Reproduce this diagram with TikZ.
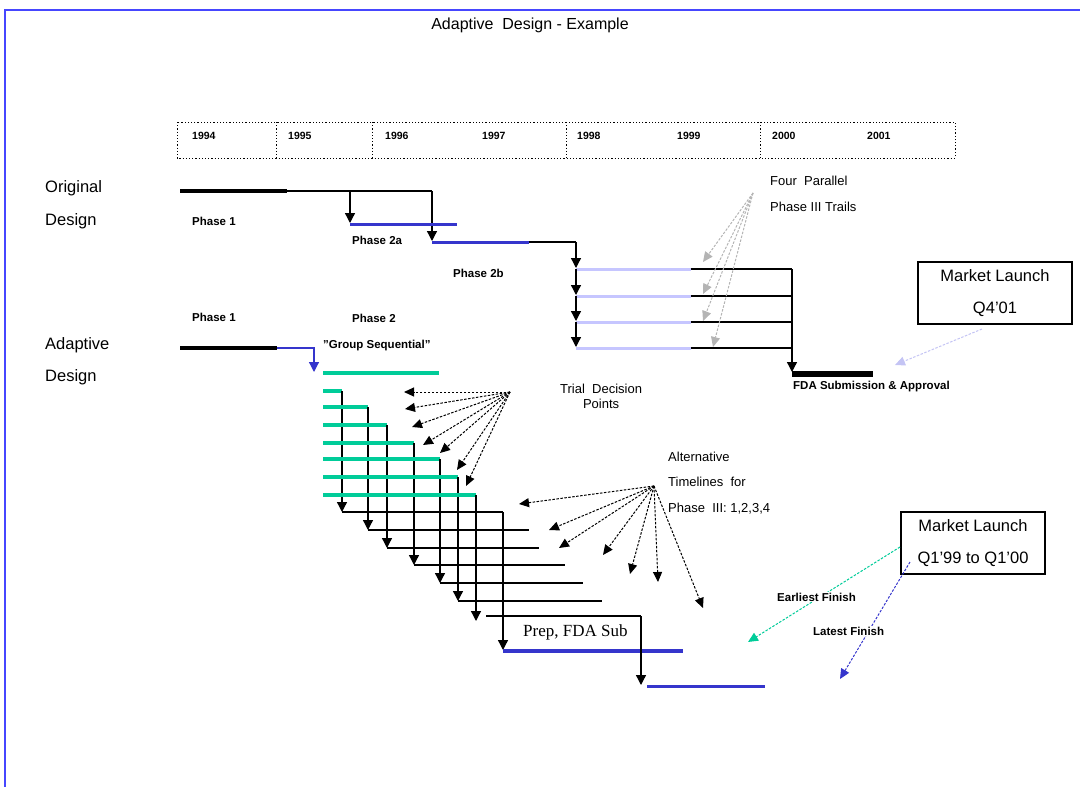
\documentclass[tikz,border=0pt]{standalone}
\usepackage{fontspec}
\setmainfont{Liberation Sans}
\newfontfamily\serifface{Liberation Serif}
\usetikzlibrary{arrows.meta,calc}
\definecolor{frameblue}{HTML}{4646FF}
\definecolor{phblue}{HTML}{3535CC}
\definecolor{lightbar}{HTML}{C6C6FF}
\definecolor{greenbar}{HTML}{00CC99}
\definecolor{arrowgray}{HTML}{B4B4B4}
\definecolor{lavender}{HTML}{C4C4F4}
\begin{document}
\begin{tikzpicture}[x=1pt,y=-1pt,
  lbl/.style={inner sep=0pt, anchor=west, font=\fontsize{13}{15}\selectfont},
  blbl/.style={inner sep=0pt, anchor=west, font=\bfseries\fontsize{11.5}{13}\selectfont},
  big/.style={inner sep=0pt, anchor=west, font=\fontsize{16.5}{19}\selectfont},
  yr/.style={inner sep=0pt, anchor=west, font=\bfseries\fontsize{10.5}{12}\selectfont},
  tipped/.style={-{Triangle[length=10pt,width=10pt]}},
  conn/.style={line width=1.3pt, black},
  dots/.style={dash pattern=on 1.2pt off 2pt, line width=1pt},
  pointer/.style={dash pattern=on 2.5pt off 1.5pt, line width=1pt, -{Triangle[length=10pt,width=9pt]}},
  mbox/.style={draw, line width=1.5pt, inner sep=0pt, align=center, font=\fontsize{16.5}{32}\selectfont},
  ]
\useasboundingbox (0,0) rectangle (1080,787);
% frame
\draw[frameblue, line width=2.5pt] (5,787) -- (5,10) -- (1080,10);
% title
\node[inner sep=0pt, font=\fontsize{16}{18}\selectfont] (title) at (530,25) {Adaptive\ \ Design - Example};
% timeline box
\draw[dots] (177,122) rectangle (955,158);
\foreach \x in {276,372,566,760}{\draw[dots] (\x,122) -- (\x,158);}
\node[yr] (y1) at (192,136) {1994};
\node[yr] (y2) at (288,136) {1995};
\node[yr] (y3) at (385,136) {1996};
\node[yr] (y4) at (482,136) {1997};
\node[yr] (y5) at (577,136) {1998};
\node[yr] (y6) at (677,136) {1999};
\node[yr] (y7) at (772,136) {2000};
\node[yr] (y8) at (867,136) {2001};
% side labels
\node[big] (orig1) at (45,188) {Original};
\node[big] (orig2) at (45,221) {Design};
\node[big] (ad1) at (45,345) {Adaptive};
\node[big] (ad2) at (45,377) {Design};
% ---------- Original design ----------
\coordinate (p1s) at (180,191);
\coordinate (p1e) at (287,191);
\coordinate (j2a) at (350,191);
\coordinate (j2b) at (432,191);
\coordinate (a2s) at (350,224);
\coordinate (a2e) at (457,224);
\coordinate (b2s) at (432,242);
\coordinate (b2e) at (529,242);
\coordinate (b2j) at (576,242);
\draw[line width=3.5pt] (p1s) -- (p1e);
\draw[conn] (p1e) -- (j2b);
\draw[conn, tipped] (j2a) -- ($(a2s)+(0,-1)$);
\draw[conn, tipped] (j2b) -- ($(b2s)+(0,-1)$);
\draw[phblue, line width=3pt] (a2s) -- (a2e);
\draw[phblue, line width=3pt] (b2s) -- (b2e);
\draw[conn] (b2e) -- (b2j);
\node[blbl] (ph1a) at (192,221) {Phase 1};
\node[blbl] (ph2a) at (352,240) {Phase 2a};
\node[blbl] (ph2b) at (453,273) {Phase 2b};
% four parallel trials
\foreach \y [count=\i] in {269,296,322,348}{
  \coordinate (t\i s) at (576,\y);
  \coordinate (t\i m) at (691,\y);
  \coordinate (t\i e) at (792,\y);
  \draw[lightbar, line width=3pt] (t\i s) -- (t\i m);
  \draw[conn] (t\i m) -- (t\i e);
}
\draw[conn, tipped] (b2j) -- ($(t1s)+(0,-1)$);
\draw[conn, tipped] (t1s) -- ($(t2s)+(0,-1)$);
\draw[conn, tipped] (t2s) -- ($(t3s)+(0,-1)$);
\draw[conn, tipped] (t3s) -- ($(t4s)+(0,-1)$);
\coordinate (fdas) at (792,374);
\coordinate (fdae) at (873,374);
\draw[conn, tipped] (t1e) -- ($(fdas)+(0,-2)$);
\draw[line width=6pt] (fdas) -- (fdae);
\node[blbl] (fdatxt) at (793,387) {FDA Submission \& Approval};
\node[lbl, align=left, font=\fontsize{13}{26}\selectfont] (fourp) at (770,194) {Four\ \ Parallel\\Phase III Trails};
\coordinate (gsrc) at (753,193);
\foreach \tx/\ty in {703/262, 703/294, 703/321, 713/347}{
  \draw[pointer, arrowgray] (gsrc) -- (\tx,\ty);
}
% market launch 1
\node[mbox, minimum width=154pt, minimum height=62pt] (ml1) at (995,293) {Market Launch\\Q4'01};
\coordinate (ml1p) at (982,329);
\draw[pointer, lavender] (ml1p) -- (895,365);
% ---------- Adaptive design ----------
\node[blbl] (ph1b) at (192,317) {Phase 1};
\node[blbl] (ph2) at (352,318) {Phase 2};
\node[blbl] (gseq) at (323,346) {\symbol{34}Group Sequential\symbol{34}};
\coordinate (q1s) at (180,348);
\coordinate (q1e) at (277,348);
\coordinate (q1j) at (314,348);
\coordinate (q1t) at (314,372);
\draw[line width=3.5pt] (q1s) -- (q1e);
\draw[phblue, line width=1.2pt, tipped] (q1e) -- (q1j) -- (q1t);
\draw[greenbar, line width=4pt] (323,373) -- (439,373);
% green stages with decision drops
\foreach \gy/\gx/\hy/\hx [count=\i] in {391/342/512/503, 407/368/530/529, 425/387/548/539, 443/414/565/565, 459/440/583/583, 477/458/601/602}{
  \coordinate (g\i s) at (323,\gy);
  \coordinate (g\i e) at (\gx,\gy);
  \coordinate (h\i s) at (\gx,\hy);
  \coordinate (h\i e) at (\hx,\hy);
  \draw[greenbar, line width=4pt] (g\i s) -- (g\i e);
  \draw[conn, tipped] (g\i e) -- (h\i s);
  \draw[conn] (h\i s) -- (h\i e);
}
\coordinate (g7s) at (323,495);
\coordinate (g7e) at (476,495);
\coordinate (g7t) at (476,621);
\draw[greenbar, line width=4pt] (g7s) -- (g7e);
\draw[conn, tipped] (g7e) -- (g7t);
\coordinate (h7s) at (486,616);
\coordinate (h7e) at (641,616);
\draw[conn] (h7s) -- (h7e);
% prep FDA sub
\coordinate (pfs) at (503,651);
\coordinate (pfe) at (683,651);
\draw[conn, tipped] (h1e) -- ($(pfs)+(0,-1)$);
\draw[phblue, line width=4pt] (pfs) -- (pfe);
\node[inner sep=0pt, anchor=west, font=\serifface\fontsize{17}{19}\selectfont] (prep) at (523,632) {Prep, FDA Sub};
\coordinate (lfs) at (647,686);
\coordinate (lfe) at (765,686);
\coordinate (lft) at (641,685);
\draw[conn, tipped] (h7e) -- (lft);
\draw[phblue, line width=3pt] (lfs) -- (lfe);
% trial decision points
\node[lbl, align=center, font=\fontsize{13}{15}\selectfont] (tdp) at (560,396) {Trial\ \ Decision\\Points};
\coordinate (tsrc) at (510,392);
\foreach \tx/\ty in {404/392, 405/409, 412/427, 423/445, 440/453, 457/470, 466/486}{
  \draw[pointer, black] (tsrc) -- (\tx,\ty);
}
% alternative timelines
\node[lbl, align=left, font=\fontsize{13}{25.5}\selectfont] (alt) at (668,483) {Alternative\\Timelines\ \ for\\Phase\ \ III: 1,2,3,4};
\coordinate (asrc) at (654,486);
\foreach \tx/\ty in {519/504, 549/530, 559/548, 603/555, 630/574, 658/582, 703/608}{
  \draw[pointer, black] (asrc) -- (\tx,\ty);
}
% market launch 2
\node[mbox, minimum width=144pt, minimum height=62pt] (ml2) at (973,543) {Market Launch\\Q1'99 to Q1'00};
\coordinate (esrc) at (900,547);
\coordinate (ltsrc) at (910,562);
\draw[pointer, greenbar] (esrc) -- (748,642);
\draw[pointer, phblue] (ltsrc) -- (840,679);
\node[blbl, fill=white, inner sep=1pt] (earl) at (776,597) {Earliest Finish};
\node[blbl, fill=white, inner sep=1pt] (late) at (812,631) {Latest Finish};
\end{tikzpicture}
\end{document}
